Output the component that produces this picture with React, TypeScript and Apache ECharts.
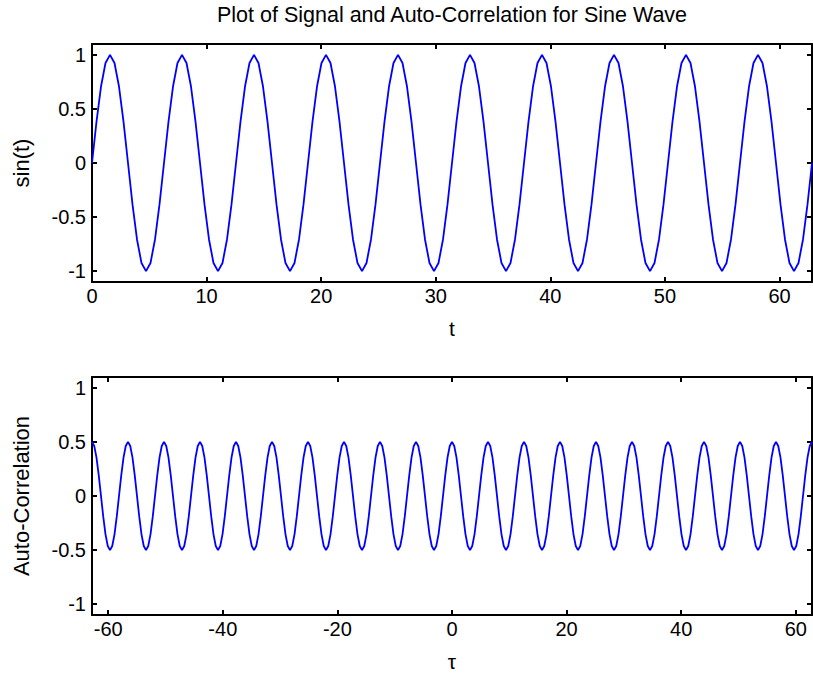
import React, { useEffect, useRef } from "react";
import * as echarts from "echarts";

// ---- data ----
const TITLE = "Plot of Signal and Auto-Correlation for Sine Wave";

// top panel: sampled signal sin(t), t from 0 with step pi/8
const SIGNAL_T0 = 0;
const SIGNAL_DT = Math.PI / 8;
const signalValues = [
  0, 0.383, 0.707, 0.924, 1, 0.924, 0.707, 0.383, 0, -0.383, -0.707, -0.924, -1, -0.924, -0.707, -0.383,
  0, 0.383, 0.707, 0.924, 1, 0.924, 0.707, 0.383, 0, -0.383, -0.707, -0.924, -1, -0.924, -0.707, -0.383,
  0, 0.383, 0.707, 0.924, 1, 0.924, 0.707, 0.383, 0, -0.383, -0.707, -0.924, -1, -0.924, -0.707, -0.383,
  0, 0.383, 0.707, 0.924, 1, 0.924, 0.707, 0.383, 0, -0.383, -0.707, -0.924, -1, -0.924, -0.707, -0.383,
  0, 0.383, 0.707, 0.924, 1, 0.924, 0.707, 0.383, 0, -0.383, -0.707, -0.924, -1, -0.924, -0.707, -0.383,
  0, 0.383, 0.707, 0.924, 1, 0.924, 0.707, 0.383, 0, -0.383, -0.707, -0.924, -1, -0.924, -0.707, -0.383,
  0, 0.383, 0.707, 0.924, 1, 0.924, 0.707, 0.383, 0, -0.383, -0.707, -0.924, -1, -0.924, -0.707, -0.383,
  0, 0.383, 0.707, 0.924, 1, 0.924, 0.707, 0.383, 0, -0.383, -0.707, -0.924, -1, -0.924, -0.707, -0.383,
  0, 0.383, 0.707, 0.924, 1, 0.924, 0.707, 0.383, 0, -0.383, -0.707, -0.924, -1, -0.924, -0.707, -0.383,
  0, 0.383, 0.707, 0.924, 1, 0.924, 0.707, 0.383, 0, -0.383, -0.707, -0.924, -1, -0.924, -0.707, -0.383,
  0,
];

// bottom panel: auto-correlation, lag from -20*pi with step pi/8
const ACF_T0 = -20 * Math.PI;
const ACF_DT = Math.PI / 8;
const acfValues = [
  0.5, 0.462, 0.354, 0.191, 0, -0.191, -0.354, -0.462, -0.5, -0.462, -0.354, -0.191, 0, 0.191, 0.354, 0.462,
  0.5, 0.462, 0.354, 0.191, 0, -0.191, -0.354, -0.462, -0.5, -0.462, -0.354, -0.191, 0, 0.191, 0.354, 0.462,
  0.5, 0.462, 0.354, 0.191, 0, -0.191, -0.354, -0.462, -0.5, -0.462, -0.354, -0.191, 0, 0.191, 0.354, 0.462,
  0.5, 0.462, 0.354, 0.191, 0, -0.191, -0.354, -0.462, -0.5, -0.462, -0.354, -0.191, 0, 0.191, 0.354, 0.462,
  0.5, 0.462, 0.354, 0.191, 0, -0.191, -0.354, -0.462, -0.5, -0.462, -0.354, -0.191, 0, 0.191, 0.354, 0.462,
  0.5, 0.462, 0.354, 0.191, 0, -0.191, -0.354, -0.462, -0.5, -0.462, -0.354, -0.191, 0, 0.191, 0.354, 0.462,
  0.5, 0.462, 0.354, 0.191, 0, -0.191, -0.354, -0.462, -0.5, -0.462, -0.354, -0.191, 0, 0.191, 0.354, 0.462,
  0.5, 0.462, 0.354, 0.191, 0, -0.191, -0.354, -0.462, -0.5, -0.462, -0.354, -0.191, 0, 0.191, 0.354, 0.462,
  0.5, 0.462, 0.354, 0.191, 0, -0.191, -0.354, -0.462, -0.5, -0.462, -0.354, -0.191, 0, 0.191, 0.354, 0.462,
  0.5, 0.462, 0.354, 0.191, 0, -0.191, -0.354, -0.462, -0.5, -0.462, -0.354, -0.191, 0, 0.191, 0.354, 0.462,
  0.5, 0.462, 0.354, 0.191, 0, -0.191, -0.354, -0.462, -0.5, -0.462, -0.354, -0.191, 0, 0.191, 0.354, 0.462,
  0.5, 0.462, 0.354, 0.191, 0, -0.191, -0.354, -0.462, -0.5, -0.462, -0.354, -0.191, 0, 0.191, 0.354, 0.462,
  0.5, 0.462, 0.354, 0.191, 0, -0.191, -0.354, -0.462, -0.5, -0.462, -0.354, -0.191, 0, 0.191, 0.354, 0.462,
  0.5, 0.462, 0.354, 0.191, 0, -0.191, -0.354, -0.462, -0.5, -0.462, -0.354, -0.191, 0, 0.191, 0.354, 0.462,
  0.5, 0.462, 0.354, 0.191, 0, -0.191, -0.354, -0.462, -0.5, -0.462, -0.354, -0.191, 0, 0.191, 0.354, 0.462,
  0.5, 0.462, 0.354, 0.191, 0, -0.191, -0.354, -0.462, -0.5, -0.462, -0.354, -0.191, 0, 0.191, 0.354, 0.462,
  0.5, 0.462, 0.354, 0.191, 0, -0.191, -0.354, -0.462, -0.5, -0.462, -0.354, -0.191, 0, 0.191, 0.354, 0.462,
  0.5, 0.462, 0.354, 0.191, 0, -0.191, -0.354, -0.462, -0.5, -0.462, -0.354, -0.191, 0, 0.191, 0.354, 0.462,
  0.5, 0.462, 0.354, 0.191, 0, -0.191, -0.354, -0.462, -0.5, -0.462, -0.354, -0.191, 0, 0.191, 0.354, 0.462,
  0.5, 0.462, 0.354, 0.191, 0, -0.191, -0.354, -0.462, -0.5, -0.462, -0.354, -0.191, 0, 0.191, 0.354, 0.462,
  0.5,
];

// axis ranges and ticks
const TOP_X_RANGE = [0, 20 * Math.PI];
const BOTTOM_X_RANGE = [-20 * Math.PI, 20 * Math.PI];
const Y_RANGE = [-1.1, 1.1];
const TOP_X_TICKS = [0, 10, 20, 30, 40, 50, 60];
const BOTTOM_X_TICKS = [-60, -40, -20, 0, 20, 40, 60];
const Y_TICKS = [-1, -0.5, 0, 0.5, 1];

const FONT = "'Liberation Sans', Arial, Helvetica, sans-serif";
const FS = 20;

function xAxis(gridIndex: number, range: number[], ticks: number[], position: string, name?: string) {
  const isMain = position === "bottom";
  return {
    type: "value",
    gridIndex,
    position,
    min: range[0],
    max: range[1],
    name: isMain ? name : undefined,
    nameLocation: "middle",
    nameGap: 36,
    nameTextStyle: { color: "#000", fontSize: 21, fontFamily: FONT },
    axisLine: { show: true, onZero: false, lineStyle: { color: "#000", width: 2 } },
    axisTick: { show: true, inside: true, length: 5, customValues: ticks, lineStyle: { color: "#000", width: 2 } },
    axisLabel: { show: isMain, customValues: ticks, color: "#000", fontSize: FS, fontFamily: FONT, margin: 4 },
    splitLine: { show: false },
  };
}

function yAxis(gridIndex: number, position: string, name?: string) {
  const isMain = position === "left";
  return {
    type: "value",
    gridIndex,
    position,
    min: Y_RANGE[0],
    max: Y_RANGE[1],
    name: isMain ? name : undefined,
    nameLocation: "middle",
    nameGap: 60,
    nameTextStyle: { color: "#000", fontSize: 22, fontFamily: FONT },
    axisLine: { show: true, onZero: false, lineStyle: { color: "#000", width: 2 } },
    axisTick: { show: true, inside: true, length: 5, customValues: Y_TICKS, lineStyle: { color: "#000", width: 2 } },
    axisLabel: { show: isMain, customValues: Y_TICKS, color: "#000", fontSize: FS, fontFamily: FONT, margin: 6 },
    splitLine: { show: false },
  };
}

export default function App() {
  const ref = useRef<HTMLDivElement>(null);
  useEffect(() => {
    if (!ref.current) return;
    const chart = echarts.init(ref.current, undefined, { renderer: "svg" });
    const signalData = signalValues.map((v, i) => [SIGNAL_T0 + i * SIGNAL_DT, v]);
    const acfData = acfValues.map((v, i) => [ACF_T0 + i * ACF_DT, v]);
    chart.setOption({
      animation: false,
      backgroundColor: "#fff",
      title: {
        text: TITLE,
        left: 452,
        top: 4,
        textAlign: "center",
        padding: 0,
        textStyle: { color: "#000", fontSize: 21.5, fontWeight: "normal", fontFamily: FONT },
      },
      grid: [
        { left: 92, top: 44, width: 720, height: 238, containLabel: false },
        { left: 92, top: 377, width: 720, height: 239, containLabel: false },
      ],
      xAxis: [
        xAxis(0, TOP_X_RANGE, TOP_X_TICKS, "bottom", "t"),
        xAxis(0, TOP_X_RANGE, TOP_X_TICKS, "top"),
        xAxis(1, BOTTOM_X_RANGE, BOTTOM_X_TICKS, "bottom", "τ"),
        xAxis(1, BOTTOM_X_RANGE, BOTTOM_X_TICKS, "top"),
      ],
      yAxis: [
        yAxis(0, "left", "sin(t)"),
        yAxis(0, "right"),
        yAxis(1, "left", "Auto-Correlation"),
        yAxis(1, "right"),
      ],
      series: [
        {
          type: "line",
          xAxisIndex: 0,
          yAxisIndex: 0,
          data: signalData,
          showSymbol: false,
          symbol: "none",
          lineStyle: { color: "#0000ff", width: 1.8 },
        },
        {
          type: "line",
          xAxisIndex: 2,
          yAxisIndex: 2,
          data: acfData,
          showSymbol: false,
          symbol: "none",
          lineStyle: { color: "#0000ff", width: 1.8 },
        },
      ],
    });
    return () => chart.dispose();
  }, []);
  return <div ref={ref} style={{ position: "absolute", left: 0, top: 0, width: 813, height: 673 }} />;
}
